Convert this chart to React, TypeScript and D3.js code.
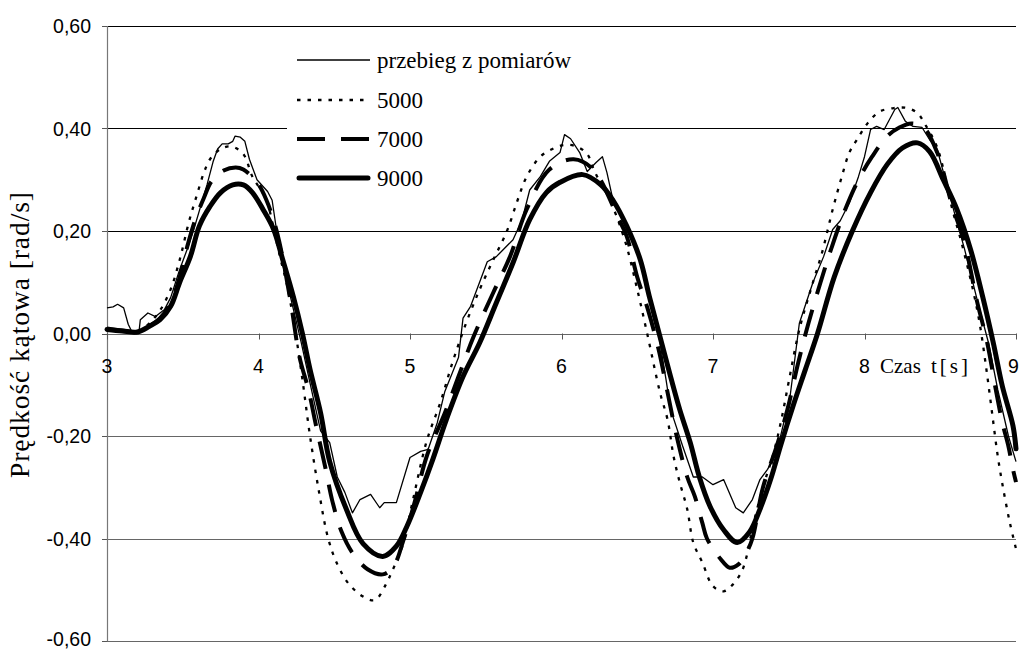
import React from "react";
import * as d3 from "d3";

const xTicks = [3, 4, 5, 6, 7, 8, 9];
const yTicks = [-0.6, -0.4, -0.2, 0, 0.2, 0.4, 0.6];
const legendLabels = ["przebieg z pomiarów", "5000", "7000", "9000"];
const xTitleWord = "Czas";
const xTitleUnit = "t[s]";
const yTitle = "Prędkość kątowa [rad/s]";

// [time s, angular velocity rad/s]
const measured: [number, number][] = [
  [3.0, 0.05], [3.04, 0.052], [3.07, 0.057], [3.11, 0.05], [3.14, 0.018], [3.17, 0.0], [3.21, 0.0],
  [3.22, 0.027], [3.27, 0.04], [3.32, 0.033], [3.38, 0.047], [3.42, 0.07], [3.48, 0.125], [3.53, 0.165],
  [3.57, 0.2], [3.62, 0.25], [3.66, 0.29], [3.7, 0.335], [3.73, 0.36], [3.76, 0.37], [3.8, 0.37],
  [3.83, 0.375], [3.845, 0.385], [3.88, 0.383], [3.91, 0.375], [3.94, 0.34], [3.99, 0.3], [4.06, 0.277],
  [4.09, 0.26], [4.12, 0.2], [4.2, 0.085], [4.28, -0.015], [4.35, -0.11], [4.41, -0.19], [4.47, -0.213],
  [4.52, -0.28], [4.57, -0.31], [4.62, -0.35], [4.67, -0.324], [4.74, -0.314], [4.8, -0.34], [4.83, -0.33],
  [4.91, -0.33], [5.0, -0.242], [5.07, -0.23], [5.12, -0.226], [5.18, -0.174], [5.23, -0.113], [5.32, -0.047],
  [5.35, 0.03], [5.4, 0.053], [5.51, 0.14], [5.57, 0.15], [5.68, 0.183], [5.74, 0.222], [5.79, 0.28],
  [5.86, 0.306], [5.92, 0.336], [5.99, 0.353], [6.02, 0.388], [6.06, 0.38], [6.12, 0.353], [6.17, 0.316],
  [6.23, 0.334], [6.27, 0.345], [6.3, 0.314], [6.34, 0.26], [6.45, 0.203], [6.52, 0.14], [6.58, 0.07],
  [6.64, 0.0], [6.69, -0.09], [6.72, -0.148], [6.8, -0.22], [6.87, -0.28], [6.93, -0.28], [7.0, -0.295],
  [7.07, -0.285], [7.15, -0.34], [7.2, -0.35], [7.26, -0.324], [7.31, -0.285], [7.36, -0.265], [7.42, -0.233],
  [7.51, -0.12], [7.57, 0.02], [7.66, 0.1], [7.73, 0.15], [7.79, 0.203], [7.84, 0.22], [7.9, 0.255],
  [7.96, 0.306], [8.0, 0.345], [8.04, 0.398], [8.08, 0.404], [8.13, 0.398], [8.2, 0.437], [8.22, 0.441],
  [8.27, 0.414], [8.32, 0.404], [8.38, 0.402], [8.43, 0.378], [8.48, 0.359], [8.58, 0.25], [8.66, 0.165],
  [8.74, 0.07], [8.82, -0.02], [8.88, -0.11], [8.95, -0.2], [9.0, -0.25],
];

const model5000: [number, number][] = [
  [3.0, 0.01], [3.1, 0.005], [3.2, 0.004], [3.28, 0.02], [3.35, 0.045], [3.42, 0.086], [3.48, 0.144],
  [3.54, 0.217], [3.59, 0.267], [3.64, 0.314], [3.68, 0.34], [3.75, 0.36], [3.82, 0.365], [3.9, 0.35],
  [3.96, 0.306], [4.05, 0.262], [4.11, 0.19], [4.15, 0.14], [4.19, 0.092], [4.24, 0.01], [4.29, -0.09],
  [4.34, -0.2], [4.4, -0.31], [4.46, -0.4], [4.52, -0.45], [4.6, -0.49], [4.7, -0.515], [4.77, -0.52],
  [4.84, -0.49], [4.88, -0.465], [4.95, -0.415], [5.02, -0.324], [5.11, -0.21], [5.2, -0.135], [5.28, -0.057],
  [5.37, 0.02], [5.46, 0.086], [5.55, 0.144], [5.64, 0.2], [5.71, 0.26], [5.77, 0.306], [5.86, 0.345],
  [5.94, 0.36], [6.02, 0.368], [6.1, 0.365], [6.17, 0.35], [6.22, 0.315], [6.32, 0.26], [6.42, 0.18],
  [6.5, 0.086], [6.57, -0.006], [6.65, -0.115], [6.7, -0.168], [6.74, -0.24], [6.78, -0.29], [6.83, -0.343],
  [6.87, -0.408], [6.93, -0.447], [7.0, -0.493], [7.07, -0.503], [7.13, -0.49], [7.19, -0.464], [7.23, -0.425],
  [7.26, -0.38], [7.33, -0.3], [7.4, -0.233], [7.45, -0.17], [7.5, -0.094], [7.57, 0.008], [7.66, 0.1],
  [7.72, 0.158], [7.79, 0.242], [7.85, 0.306], [7.9, 0.353], [7.95, 0.378], [8.02, 0.41], [8.1, 0.433],
  [8.2, 0.44], [8.28, 0.44], [8.35, 0.43], [8.4, 0.408], [8.48, 0.363], [8.58, 0.242], [8.64, 0.178],
  [8.72, 0.08], [8.76, 0.02], [8.8, -0.06], [8.84, -0.15], [8.88, -0.24], [8.92, -0.31], [8.96, -0.37],
  [9.0, -0.42],
];

const model7000: [number, number][] = [
  [3.0, 0.01], [3.1, 0.006], [3.2, 0.003], [3.28, 0.015], [3.35, 0.03], [3.42, 0.06], [3.48, 0.11],
  [3.53, 0.17], [3.58, 0.22], [3.64, 0.265], [3.69, 0.297], [3.77, 0.318], [3.85, 0.324], [3.9, 0.32],
  [3.99, 0.295], [4.05, 0.262], [4.12, 0.2], [4.21, 0.066], [4.27, -0.045], [4.33, -0.11], [4.38, -0.18],
  [4.44, -0.26], [4.49, -0.33], [4.55, -0.388], [4.62, -0.428], [4.72, -0.46], [4.82, -0.47], [4.89, -0.455],
  [4.96, -0.4], [5.03, -0.33], [5.11, -0.24], [5.23, -0.155], [5.32, -0.084], [5.42, -0.006], [5.55, 0.08],
  [5.66, 0.15], [5.77, 0.242], [5.92, 0.32], [6.08, 0.34], [6.21, 0.32], [6.37, 0.228], [6.43, 0.19],
  [6.5, 0.11], [6.57, 0.047], [6.64, -0.03], [6.7, -0.115], [6.76, -0.2], [6.83, -0.28], [6.88, -0.318],
  [6.93, -0.37], [6.96, -0.4], [7.05, -0.44], [7.11, -0.457], [7.17, -0.45], [7.22, -0.428], [7.26, -0.4],
  [7.33, -0.3], [7.42, -0.22], [7.49, -0.15], [7.56, -0.06], [7.63, 0.02], [7.71, 0.1], [7.78, 0.165],
  [7.87, 0.24], [7.96, 0.3], [8.05, 0.345], [8.15, 0.385], [8.23, 0.402], [8.31, 0.41], [8.39, 0.402],
  [8.48, 0.353], [8.58, 0.248], [8.66, 0.178], [8.74, 0.066], [8.81, -0.018], [8.87, -0.115], [8.91, -0.174],
  [8.95, -0.22], [8.98, -0.265], [9.0, -0.29],
];

const model9000: [number, number][] = [
  [3.0, 0.008], [3.1, 0.005], [3.2, 0.003], [3.28, 0.014], [3.35, 0.027], [3.42, 0.053], [3.48, 0.1],
  [3.55, 0.15], [3.61, 0.21], [3.68, 0.248], [3.75, 0.275], [3.83, 0.29], [3.9, 0.29], [3.96, 0.275],
  [4.03, 0.242], [4.1, 0.203], [4.16, 0.144], [4.23, 0.072], [4.29, 0.0], [4.34, -0.07], [4.41, -0.155],
  [4.47, -0.25], [4.58, -0.343], [4.69, -0.41], [4.82, -0.435], [4.91, -0.415], [4.98, -0.376], [5.07, -0.31],
  [5.15, -0.246], [5.24, -0.168], [5.35, -0.084], [5.46, -0.018], [5.57, 0.06], [5.68, 0.138], [5.79, 0.222],
  [5.9, 0.275], [5.99, 0.295], [6.14, 0.31], [6.26, 0.29], [6.34, 0.26], [6.43, 0.21], [6.52, 0.144],
  [6.58, 0.072], [6.65, -0.006], [6.72, -0.084], [6.78, -0.148], [6.85, -0.213], [6.91, -0.28], [6.98, -0.337],
  [7.07, -0.383], [7.16, -0.408], [7.24, -0.388], [7.31, -0.343], [7.38, -0.285], [7.45, -0.215], [7.53, -0.14],
  [7.61, -0.07], [7.69, 0.0], [7.8, 0.11], [7.92, 0.2], [8.04, 0.275], [8.15, 0.33], [8.25, 0.362],
  [8.35, 0.372], [8.43, 0.355], [8.52, 0.3], [8.61, 0.242], [8.7, 0.164], [8.78, 0.072], [8.85, -0.018],
  [8.91, -0.103], [8.98, -0.18], [9.0, -0.225],
];

const W = 1019;
const H = 649;

const styles = [
  { width: 1.3, dash: undefined as string | undefined, cap: "butt" },
  { width: 2.3, dash: "3.5 7", cap: "butt" },
  { width: 4, dash: "28 16", cap: "butt" },
  { width: 5, dash: undefined as string | undefined, cap: "round" },
];

export default function App() {
  const x = d3.scaleLinear().domain([3, 9]).range([107, 1016]);
  const y = d3.scaleLinear().domain([-0.6, 0.6]).range([641, 26]);
  const smooth = d3
    .line<[number, number]>()
    .x((d) => x(d[0]))
    .y((d) => y(d[1]))
    .curve(d3.curveCatmullRom.alpha(0.5));
  const raw = d3
    .line<[number, number]>()
    .x((d) => x(d[0]))
    .y((d) => y(d[1]));
  const fmt = (v: number) => d3.format(".2f")(v).replace(".", ",").replace("−", "-");
  const series = [
    { data: measured, path: raw },
    { data: model5000, path: smooth },
    { data: model7000, path: smooth },
    { data: model9000, path: smooth },
  ];
  const legendY = [60, 100, 139, 178];
  const sans = "'Liberation Sans', Arial, sans-serif";
  const serif = "'Liberation Serif', 'Times New Roman', serif";
  return (
    <svg
      width={W}
      height={H}
      style={{ position: "absolute", left: 0, top: 0, background: "#fff" }}
    >
      <rect x={0} y={0} width={W} height={H} fill="#fff" />
      {/* gridlines */}
      {yTicks.map((t) => (
        <line
          key={"g" + t}
          x1={x(3)}
          x2={x(9)}
          y1={Math.round(y(t)) + 0.5}
          y2={Math.round(y(t)) + 0.5}
          stroke={t > 0 ? "#000" : "#666"}
          strokeWidth={1}
        />
      ))}
      {/* y axis */}
      <line x1={x(3) + 0.5} x2={x(3) + 0.5} y1={y(0.6)} y2={y(-0.6)} stroke="#777" strokeWidth={1.2} />
      {yTicks.map((t) => (
        <line
          key={"yt" + t}
          x1={x(3) - 5}
          x2={x(3)}
          y1={Math.round(y(t)) + 0.5}
          y2={Math.round(y(t)) + 0.5}
          stroke="#555"
        />
      ))}
      {yTicks.map((t) => (
        <text
          key={"yl" + t}
          x={91}
          y={t === -0.6 ? y(t) - 2 : y(t)}
          textAnchor="end"
          dominantBaseline="central"
          fontFamily={sans}
          fontSize={19.5}
          fill="#000"
        >
          {fmt(t)}
        </text>
      ))}
      {/* x ticks on zero line */}
      {xTicks.map((t) => (
        <line
          key={"xt" + t}
          x1={Math.round(x(t)) + 0.5}
          x2={Math.round(x(t)) + 0.5}
          y1={y(0)}
          y2={y(0) + 6}
          stroke="#555"
        />
      ))}
      {xTicks.map((t) => (
        <text
          key={"xl" + t}
          x={t === 9 ? 1008 : x(t)}
          y={366}
          textAnchor={t === 9 ? "start" : "middle"}
          dominantBaseline="central"
          fontFamily={sans}
          fontSize={19.5}
          fill="#000"
        >
          {t}
        </text>
      ))}
      {/* legend background */}
      <rect x={287} y={40} width={301} height={155} fill="#fff" />
      {/* series */}
      {series.map((s, i) => (
        <path
          key={"s" + i}
          d={s.path(s.data) || ""}
          fill="none"
          stroke="#000"
          strokeWidth={styles[i].width}
          strokeDasharray={styles[i].dash}
          strokeLinejoin="round"
          strokeLinecap={styles[i].cap as any}
        />
      ))}
      {/* legend */}
      {legendLabels.map((lab, i) => (
        <g key={"lg" + i}>
          <line
            x1={i === 3 ? 299 : 297}
            x2={i === 3 ? 368 : 370}
            y1={legendY[i]}
            y2={legendY[i]}
            stroke="#000"
            strokeWidth={styles[i].width}
            strokeDasharray={styles[i].dash}
            strokeLinecap={styles[i].cap as any}
          />
          <text
            x={377}
            y={legendY[i]}
            dominantBaseline="central"
            fontFamily={serif}
            style={{ fontFamily: serif }}
            fontSize={23}
            fill="#000"
          >
            {lab}
          </text>
        </g>
      ))}
      {/* axis titles */}
      <text y={373} fontFamily={serif} style={{ fontFamily: serif }} fontSize={21} fill="#000">
        <tspan x={880}>{xTitleWord}</tspan>
        <tspan x={931} textLength={37} lengthAdjust="spacing">
          {xTitleUnit}
        </tspan>
      </text>
      <text
        transform={`translate(29,335) rotate(-90)`}
        textAnchor="middle"
        fontFamily={serif}
        style={{ fontFamily: serif }}
        fontSize={27.5}
        textLength={286}
        lengthAdjust="spacing"
        fill="#000"
      >
        {yTitle}
      </text>
    </svg>
  );
}
